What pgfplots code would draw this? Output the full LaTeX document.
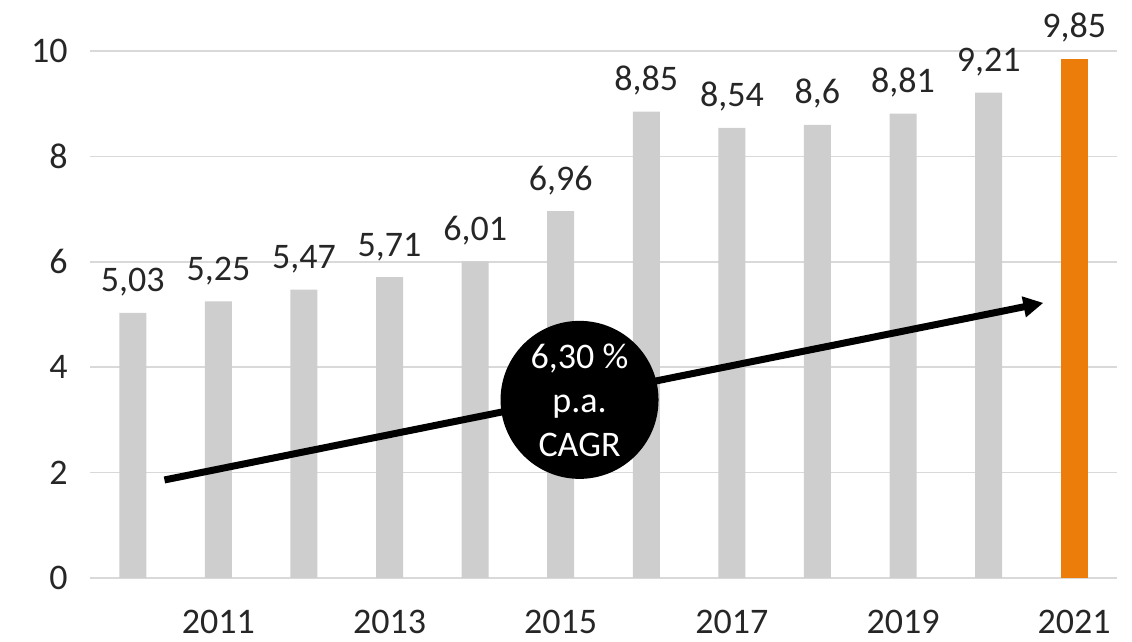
\documentclass[border=0pt]{standalone}
\usepackage{pgfplots}
\pgfplotsset{compat=1.18}
\usepackage{fontspec}
\setmainfont{Carlito}
\usetikzlibrary{arrows.meta}
\definecolor{bargray}{RGB}{206,206,206}
\definecolor{barorange}{RGB}{237,125,10}
\definecolor{gridgray}{RGB}{217,217,217}
\pgfplotsset{/pgf/number format/.cd, use comma, assume math mode=true}
\begin{document}
\begin{tikzpicture}
\begin{axis}[
  scale only axis, width=513.5pt, height=263.5pt,
  xmin=-0.5, xmax=11.5, ymin=0, ymax=10,
  clip=false,
  axis line style={draw=none},
  ytick={0,2,...,10},
  xtick={1,3,5,7,9,11},
  xticklabels={2011,2013,2015,2017,2019,2021},
  major tick length=0pt,
  ymajorgrids, grid style={gridgray, line width=0.75pt},
  tick label style={font=\fontsize{18}{22}\selectfont, text=black!85},
  yticklabel style={anchor=east, inner sep=0pt, xshift=-11pt},
  xticklabel style={anchor=base, inner sep=0pt, yshift=-28pt},
  ybar, bar width=13.5pt,
  nodes near coords,
  nodes near coords style={font=\fontsize{18}{22}\selectfont, text=black!85, anchor=base, inner sep=0pt, yshift=10.5pt},
]
\addplot[fill=bargray, draw=none, bar shift=0pt] coordinates {
 (0,5.03) (1,5.25) (2,5.47) (3,5.71) (4,6.01) (5,6.96) (6,8.85) (7,8.54) (8,8.6) (9,8.81) (10,9.21)};
\addplot[fill=barorange, draw=none, bar shift=0pt] coordinates {(11,9.85)};
\draw[line width=3.5pt, -{Triangle[length=10pt,width=10pt]}] (axis cs:0.37,1.86) -- (axis cs:10.64,5.22);
\node[circle, fill=black, minimum size=79pt, inner sep=0pt, text=white, align=center, font=\fontsize{18}{22}\selectfont] at (axis cs:5.22,3.38) {6,30 \%\\p.a.\\CAGR};
\end{axis}
\path (-45pt,-32pt) rectangle (521pt,289pt);
\end{tikzpicture}
\end{document}
